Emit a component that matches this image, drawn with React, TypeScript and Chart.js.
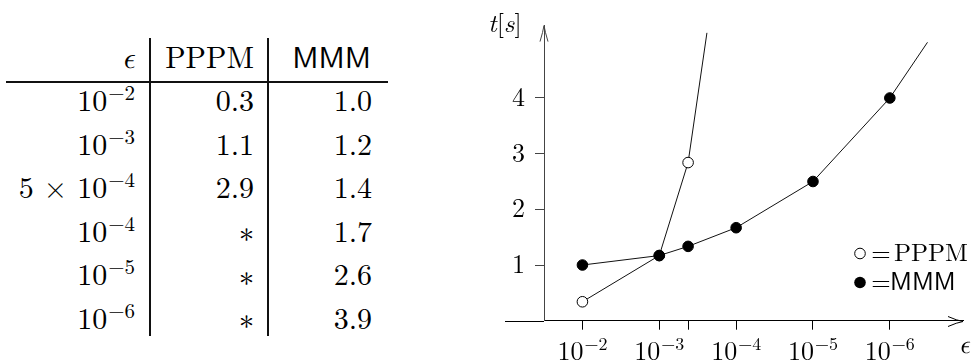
import React, { useEffect, useRef } from 'react';
import { Chart, registerables } from 'chart.js';

Chart.register(...registerables);

// ---------- Table data ----------
const tableEpsPrefix = ['', '', '5 × ', '', '', ''];
const tableEpsExp = ['−2', '−3', '−4', '−4', '−5', '−6'];
const tablePPPM = ['0.3', '1.1', '2.9', '∗', '∗', '∗'];
const tableMMM = ['1.0', '1.2', '1.4', '1.7', '2.6', '3.9'];

// ---------- Chart data (x = position of ε on the axis, i.e. -log10 ε; y = t[s]) ----------
const xTickValues = [2, 3, 3.375, 4, 5, 6];
const xTickBase = ['10', '10', '', '10', '10', '10'];
const xTickExp = ['−2', '−3', '', '−4', '−5', '−6'];
const yTickValues = [1, 2, 3, 4];

const pppmX = [2, 3, 3.375, 3.62];
const pppmY = [0.34, 1.17, 2.84, 5.17];
const pppmMarked = [true, true, true, false];

const mmmX = [2, 3, 3.375, 4, 5, 6, 6.49];
const mmmY = [1.0, 1.17, 1.335, 1.67, 2.5, 4.0, 5.0];
const mmmMarked = [true, true, true, true, true, true, false];

const SERIF = "'Latin Modern Roman', 'Liberation Serif', serif";
const SANS = "'Latin Modern Sans', 'Liberation Sans', sans-serif";
const MATH = "'Latin Modern Math', 'Latin Modern Roman', 'Liberation Serif', serif";

const decorPlugin = {
  id: 'decor',
  afterDraw(chart: any) {
    const ctx = chart.ctx as CanvasRenderingContext2D;
    const xs = chart.scales.x;
    const ys = chart.scales.y;
    const ca = chart.chartArea;
    const yAxisX = Math.round(ca.left);
    const xAxisY = Math.round(ys.getPixelForValue(0)) + 0.5;
    ctx.save();
    // x-axis extension left of the y axis
    ctx.strokeStyle = '#000';
    ctx.lineWidth = 1;
    ctx.beginPath();
    ctx.moveTo(ca.left - 39, xAxisY);
    ctx.lineTo(ca.left, xAxisY);
    ctx.stroke();
    // y arrow
    ctx.strokeStyle = '#444';
    ctx.beginPath();
    ctx.moveTo(yAxisX - 4, ca.top + 16);
    ctx.quadraticCurveTo(yAxisX - 1, ca.top + 6, yAxisX, ca.top);
    ctx.quadraticCurveTo(yAxisX + 1, ca.top + 6, yAxisX + 4, ca.top + 16);
    ctx.stroke();
    // x arrow
    ctx.strokeStyle = '#000';
    ctx.beginPath();
    ctx.moveTo(ca.right - 15, xAxisY - 5);
    ctx.quadraticCurveTo(ca.right - 6, xAxisY - 1, ca.right, xAxisY);
    ctx.quadraticCurveTo(ca.right - 6, xAxisY + 1, ca.right - 15, xAxisY + 5);
    ctx.stroke();

    ctx.fillStyle = '#000';
    ctx.textBaseline = 'alphabetic';

    // x tick labels 10^{-k}
    const labBase = 359.5;
    for (let i = 0; i < xTickValues.length; i++) {
      if (!xTickBase[i]) continue;
      const px = xs.getPixelForValue(xTickValues[i]);
      ctx.font = '26px ' + SERIF;
      const w1 = ctx.measureText(xTickBase[i]).width;
      ctx.font = '18px ' + SERIF;
      const w2 = ctx.measureText(xTickExp[i]).width;
      const x0 = px - (w1 + w2 + 1) / 2;
      ctx.textAlign = 'left';
      ctx.font = '26px ' + SERIF;
      ctx.fillText(xTickBase[i], x0, labBase);
      ctx.font = '18px ' + SERIF;
      ctx.fillText(xTickExp[i], x0 + w1 + 1, labBase - 10);
    }

    // t[s]
    let tx = 28;
    const ty = 32;
    const parts: [string, boolean][] = [['t', true], ['[', false], ['s', true], [']', false]];
    for (const [s, it] of parts) {
      ctx.font = (it ? 'italic ' : '') + '26px ' + SERIF;
      ctx.textAlign = 'left';
      ctx.fillText(s, tx, ty);
      tx += ctx.measureText(s).width;
    }
    // epsilon
    ctx.font = 'italic 26px ' + MATH;
    ctx.textAlign = 'center';
    ctx.fillText('ϵ', ca.right + 1, 353);

    // legend
    const lx = ca.right - 103;
    const l1 = 253.5;
    const l2 = 282.5;
    ctx.lineWidth = 1;
    ctx.beginPath();
    ctx.arc(lx, l1, 5.3, 0, Math.PI * 2);
    ctx.fillStyle = '#fff';
    ctx.fill();
    ctx.strokeStyle = '#000';
    ctx.stroke();
    ctx.beginPath();
    ctx.arc(lx, l2, 5.8, 0, Math.PI * 2);
    ctx.fillStyle = '#000';
    ctx.fill();
    ctx.textAlign = 'center';
    ctx.font = '25px ' + SERIF;
    ctx.fillText('=', lx + 21, l1 + 7);
    ctx.fillText('=', lx + 21, l2 + 7);
    ctx.textAlign = 'left';
    ctx.fillText('PPPM', lx + 34, l1 + 7);
    ctx.font = '25px ' + SANS;
    ctx.fillText('MMM', lx + 30, l2 + 7);
    ctx.restore();
  },
};

function ChartView() {
  const ref = useRef<HTMLCanvasElement>(null);
  useEffect(() => {
    if (!ref.current) return;
    const chart = new Chart(ref.current, {
      type: 'line',
      data: {
        datasets: [
          {
            label: 'MMM',
            data: mmmX.map((x, i) => ({ x, y: mmmY[i] })),
            borderColor: '#111',
            borderWidth: 1,
            backgroundColor: '#000',
            pointBackgroundColor: '#000',
            pointBorderColor: '#000',
            pointBorderWidth: 1,
            pointRadius: mmmMarked.map((m) => (m ? 5.3 : 0)),
            tension: 0,
            order: 0,
          },
          {
            label: 'PPPM',
            data: pppmX.map((x, i) => ({ x, y: pppmY[i] })),
            borderColor: '#111',
            borderWidth: 1,
            backgroundColor: '#fff',
            pointBackgroundColor: '#fff',
            pointBorderColor: '#000',
            pointBorderWidth: 1,
            pointRadius: pppmMarked.map((m) => (m ? 5.3 : 0)),
            tension: 0,
            order: 1,
          },
        ],
      },
      options: {
        animation: false,
        responsive: false,
        devicePixelRatio: 1,
        events: [],
        layout: { padding: { left: 0, right: 12, top: 15, bottom: 0 } },
        plugins: { legend: { display: false }, tooltip: { enabled: false }, title: { display: false } },
        scales: {
          x: {
            type: 'linear',
            min: 1.5,
            max: 6.952,
            afterBuildTicks: (s: any) => {
              s.ticks = xTickValues.map((v) => ({ value: v }));
            },
            afterFit: (s: any) => {
              s.height = 41.3;
            },
            ticks: { display: false, autoSkip: false },
            grid: { display: true, drawOnChartArea: false, drawTicks: true, tickLength: 9, color: '#000', lineWidth: 1 },
            border: { display: true, color: '#000', width: 1 },
          },
          y: {
            type: 'linear',
            position: 'left',
            min: 0,
            max: 5.3,
            afterBuildTicks: (s: any) => {
              s.ticks = yTickValues.map((v) => ({ value: v }));
            },
            afterFit: (s: any) => {
              s.width = 84;
            },
            ticks: { font: { family: SERIF, size: 26 }, color: '#000', padding: 10 },
            grid: { display: true, drawOnChartArea: false, drawTicks: true, tickLength: 9, color: '#444', lineWidth: 1 },
            border: { display: true, color: '#444', width: 1 },
          },
        },
      } as any,
      plugins: [decorPlugin],
    });
    return () => chart.destroy();
  }, []);
  return (
    <canvas
      ref={ref}
      width={515}
      height={362}
      style={{ position: 'absolute', left: 460, top: 0, width: 515, height: 362 }}
    />
  );
}

const W = 975;
const LH = 30;
const HEADER_BASE = 68;
const ROW_BASE0 = 111.5;
const ROW_STEP = 43.5;
const COL_RIGHT = [135, 254, 372];

const metricCache: Record<string, number> = {};
function baselineOffset(font: string): number {
  if (metricCache[font] !== undefined) return metricCache[font];
  const c = document.createElement('canvas').getContext('2d');
  let off = 25;
  if (c) {
    c.font = font;
    const m = c.measureText('Hg');
    const a = m.fontBoundingBoxAscent;
    const d = m.fontBoundingBoxDescent;
    if (isFinite(a) && isFinite(d)) off = (LH - (a + d)) / 2 + a;
  }
  metricCache[font] = off;
  return off;
}

function Cell(props: { right: number; baseline: number; children: any; family?: string; italic?: boolean }) {
  const family = props.family || SERIF;
  const off = baselineOffset((props.italic ? 'italic ' : '') + '30px ' + family);
  return (
    <div
      style={{
        position: 'absolute',
        right: W - props.right,
        top: props.baseline - off,
        fontSize: 30,
        lineHeight: LH + 'px',
        fontFamily: family,
        fontStyle: props.italic ? 'italic' : 'normal',
        whiteSpace: 'nowrap',
        color: '#000',
      }}
    >
      {props.children}
    </div>
  );
}

function Table() {
  const rows = tableMMM.map((_, i) => ROW_BASE0 + i * ROW_STEP);
  return (
    <>
      <Cell right={COL_RIGHT[0] - 1} baseline={HEADER_BASE} family={MATH} italic>
        ϵ
      </Cell>
      <Cell right={COL_RIGHT[1]} baseline={HEADER_BASE}>PPPM</Cell>
      <Cell right={COL_RIGHT[2] - 1} baseline={HEADER_BASE} family={SANS}>
        MMM
      </Cell>
      {rows.map((b, i) => (
        <React.Fragment key={i}>
          <Cell right={COL_RIGHT[0]} baseline={b}>
            {tableEpsPrefix[i]}10
            <span style={{ fontSize: 21, lineHeight: 0, position: 'relative', top: -11, marginLeft: 1 }}>
              {tableEpsExp[i]}
            </span>
          </Cell>
          <Cell right={COL_RIGHT[1]} baseline={b} family={tablePPPM[i] === '∗' ? MATH : SERIF}>
            {tablePPPM[i]}
          </Cell>
          <Cell right={COL_RIGHT[2]} baseline={b}>{tableMMM[i]}</Cell>
        </React.Fragment>
      ))}
      <div style={{ position: 'absolute', left: 6, top: 81, width: 382, height: 2, background: '#111' }} />
      <div style={{ position: 'absolute', left: 149, top: 38, width: 2, height: 298, background: '#111' }} />
      <div style={{ position: 'absolute', left: 267, top: 38, width: 2, height: 298, background: '#111' }} />
    </>
  );
}

export default function App() {
  return (
    <div
      style={{
        position: 'fixed',
        left: 0,
        top: 0,
        width: W,
        height: 362,
        background: '#fff',
        overflow: 'hidden',
      }}
    >
      <Table />
      <ChartView />
    </div>
  );
}
